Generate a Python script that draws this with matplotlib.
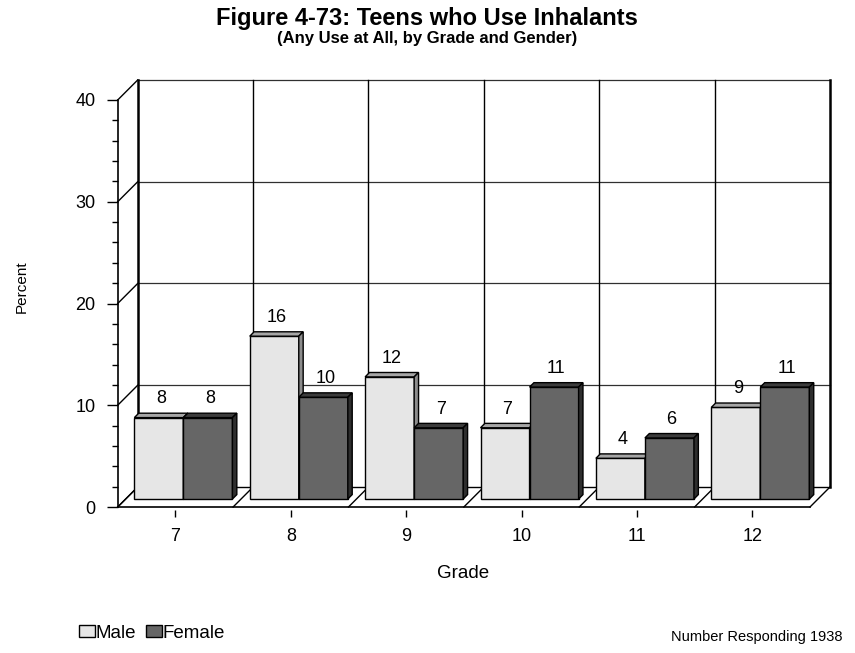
import numpy as np
import matplotlib
matplotlib.use("Agg")
import matplotlib.pyplot as plt
from matplotlib.patches import Polygon, Patch

plt.rcParams['font.family'] = ['Liberation Sans', 'DejaVu Sans']

grades = ["7", "8", "9", "10", "11", "12"]
male = [8, 16, 12, 7, 4, 9]
female = [8, 10, 7, 11, 6, 11]
yticks = [0, 10, 20, 30, 40]

W, H = 855, 653
fig = plt.figure(figsize=(W / 100, H / 100), dpi=100)
# front plane of the 3-D box: x -0.5..5.5, y 0..40
ax = fig.add_axes([117.7 / W, (H - 507) / H, (810 - 117.7) / W, (507 - 100) / H])
ax.set_xlim(-0.5, 5.5)
ax.set_ylim(0, 40)

# depth of the box in data units (about 20 px each way)
ddx = 20 / 115.4
ddy = 20 / 10.17

ax.spines['top'].set_visible(False)
ax.spines['right'].set_visible(False)
ax.spines['left'].set_linewidth(1.2)
ax.spines['bottom'].set_linewidth(1.2)

ax.set_yticks(yticks)
ax.set_yticklabels([str(v) for v in yticks], fontsize=13)
ax.set_yticks(np.arange(0, 41, 2), minor=True)
ax.tick_params(axis='y', which='major', length=8, width=1, pad=8)
ax.tick_params(axis='y', which='minor', length=4.3, width=1)

x = np.arange(len(grades))
ax.set_xticks(x)
ax.set_xticklabels(grades, fontsize=13)
ax.tick_params(axis='x', length=0, pad=15)
ax.vlines(x, -1.0, -0.3, color='black', lw=1, clip_on=False)

line = dict(color='black', lw=1, clip_on=False, zorder=1)
x0, x1 = -0.5, len(grades) - 0.5
# back wall horizontal grid lines
for v in yticks[1:]:
    ax.plot([x0 + ddx, x1 + ddx], [v + ddy, v + ddy], color='#303030', lw=0.9,
            clip_on=False, zorder=1)
# left wall diagonals
for v in yticks:
    ax.plot([x0, x0 + ddx], [v, v + ddy], **line)
# back wall verticals and floor diagonals at category borders
for b in np.arange(x0, x1 + 1):
    lw = 1.8 if b in (x0, x1) else 1
    ax.plot([b + ddx, b + ddx], [ddy, 40 + ddy], color='black', lw=lw, clip_on=False, zorder=1)
    ax.plot([b, b + ddx], [0, ddy], **line)
ax.plot([x0 + ddx, x1 + ddx], [ddy, ddy], **line)

# bars
bw = 0.425
f0 = 0.4          # where the bar front sits inside the depth
bd = 0.22         # bar depth
bx, by = f0 * ddx, f0 * ddy
sx, sy = bd * ddx, bd * ddy


def bar3d(left, val, front, top, side, z):
    ax.bar(left + bx, val, width=bw, bottom=by, align='edge', color=front,
           edgecolor='black', lw=1, zorder=z, clip_on=False)
    t = val + by
    ax.add_patch(Polygon([(left + bx, t), (left + bx + bw, t),
                          (left + bx + bw + sx, t + sy), (left + bx + sx, t + sy)],
                         closed=True, facecolor=top, edgecolor='black', lw=1, zorder=z, clip_on=False))
    ax.add_patch(Polygon([(left + bx + bw, by), (left + bx + bw, t),
                          (left + bx + bw + sx, t + sy), (left + bx + bw + sx, by + sy)],
                         closed=True, facecolor=side, edgecolor='black', lw=1, zorder=z, clip_on=False))
    ax.annotate(str(val), (left + bx + bw / 2 + sx / 2, t + sy), xytext=(0, 7),
                textcoords='offset points', ha='center', va='baseline', fontsize=13,
                zorder=z + 1, annotation_clip=False)


for i in range(len(grades)):
    bar3d(i - bw, male[i], '#e6e6e6', '#a6a6a6', '#8c8c8c', 3 + 2 * i)
    bar3d(i, female[i], '#666666', '#3c3c3c', '#2e2e2e', 4 + 2 * i)

fig.text(427 / W, 1 - 18 / H, "Figure 4-73: Teens who Use Inhalants", ha='center', va='center',
         fontsize=17, fontweight='bold')
fig.text(427 / W, 1 - 38 / H, "(Any Use at All, by Grade and Gender)", ha='center', va='center',
         fontsize=12, fontweight='bold')
fig.text(22 / W, 1 - 287 / H, "Percent", rotation=90, ha='center', va='center', fontsize=11)
fig.text(463 / W, 1 - 573 / H, "Grade", ha='center', va='center', fontsize=13.5)
fig.text(842 / W, 1 - 637 / H, "Number Responding 1938", ha='right', va='center', fontsize=10.5)

handles = [Patch(facecolor='#e6e6e6', edgecolor='black', lw=1),
           Patch(facecolor='#666666', edgecolor='black', lw=1)]
fig.legend(handles, ["Male", "Female"], loc='center right', bbox_to_anchor=(225 / W, 1 - 633 / H),
           ncol=2, frameon=False, fontsize=13.5, handlelength=0.85, handleheight=0.65,
           handletextpad=0.05, columnspacing=0.5, borderpad=0, borderaxespad=0)

fig.savefig("out.png", dpi=100)
